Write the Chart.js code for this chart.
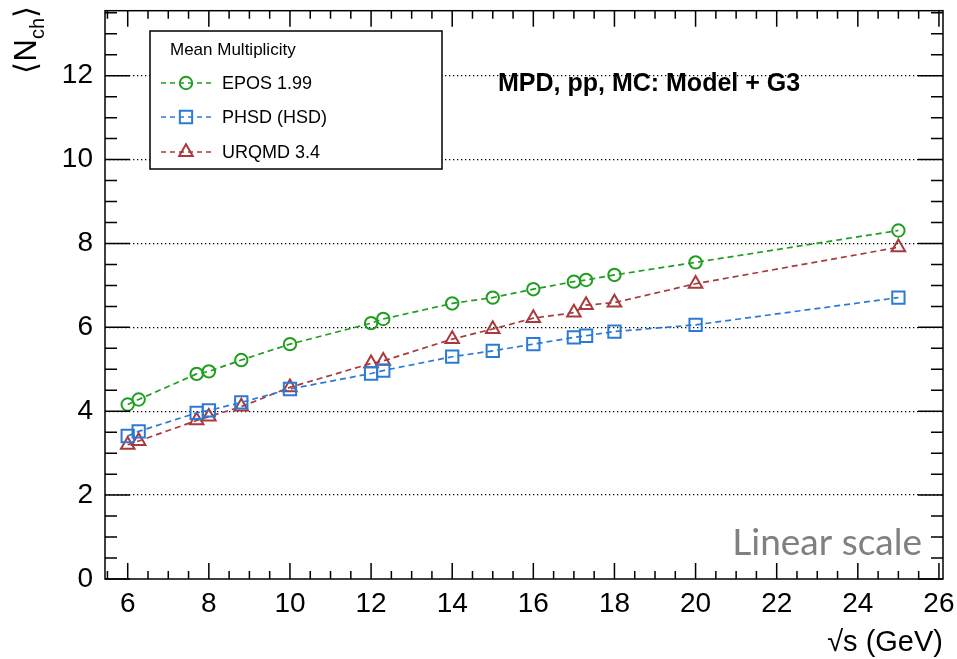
<!DOCTYPE html>
<html>
<head>
<meta charset="utf-8">
<title>Mean Multiplicity vs sqrt(s)</title>
<script src="https://cdn.jsdelivr.net/npm/chart.js"></script>
<style>
  html, body { margin: 0; padding: 0; background: #fff; }
  #wrap { width: 957px; height: 659px; }
</style>
</head>
<body>
<div id="wrap"><canvas id="multChart" width="957" height="659"></canvas></div>

<script>
// collision energies (GeV)
const energies = [6, 6.27, 7.7, 8, 8.8, 10, 12, 12.3, 14, 15, 16, 17, 17.3, 18, 20, 25];
// mean charged multiplicity per model
const eposVals  = [4.16, 4.28, 4.89, 4.95, 5.22, 5.60, 6.10, 6.20, 6.57, 6.71, 6.91, 7.09, 7.13, 7.25, 7.55, 8.31];
const phsdVals  = [3.41, 3.52, 3.96, 4.02, 4.21, 4.53, 4.90, 4.97, 5.30, 5.44, 5.60, 5.76, 5.80, 5.90, 6.06, 6.71];
const urqmdVals = [3.20, 3.29, 3.78, 3.87, 4.11, 4.57, 5.14, 5.20, 5.72, 5.96, 6.22, 6.35, 6.53, 6.59, 7.04, 7.91];

const seriesNames = ['EPOS 1.99', 'PHSD (HSD)', 'URQMD 3.4'];
const xTickLabels = [6, 8, 10, 12, 14, 16, 18, 20, 22, 24, 26];
const yTickLabels = [0, 2, 4, 6, 8, 10, 12];

const FONT = '"Liberation Sans", Arial, Helvetica, sans-serif';
const colors = ['#1f9e1f', '#2b7bd6', '#a83a3e'];
const styles = ['circle', 'rect', 'triangle'];
const radii = [6.2, 8.7, 7.8];

function toPoints(vals) {
    return energies.map((e, i) => ({ x: e, y: vals[i] }));
}

function makeSet(idx, vals) {
    return {
        label: seriesNames[idx],
        data: toPoints(vals),
        borderColor: colors[idx],
        backgroundColor: 'rgba(0,0,0,0)',
        borderWidth: 1.7,
        borderDash: [6, 4],
        pointStyle: styles[idx],
        pointRadius: radii[idx],
        pointBorderWidth: 2,
        pointBorderColor: colors[idx],
        pointBackgroundColor: 'rgba(0,0,0,0)',
        fill: false,
        tension: 0
    };
}

function drawMarker(ctx, style, x, y, r, color) {
    ctx.save();
    ctx.strokeStyle = color;
    ctx.lineWidth = 2;
    ctx.setLineDash([]);
    ctx.beginPath();
    if (style === 'circle') {
        ctx.arc(x, y, r, 0, Math.PI * 2);
    } else if (style === 'rect') {
        const s = r * Math.SQRT1_2;
        ctx.rect(x - s, y - s, 2 * s, 2 * s);
    } else {
        ctx.moveTo(x, y - r);
        ctx.lineTo(x + r * Math.cos(Math.PI / 6), y + r * 0.5);
        ctx.lineTo(x - r * Math.cos(Math.PI / 6), y + r * 0.5);
        ctx.closePath();
    }
    ctx.stroke();
    ctx.restore();
}

// frame with ROOT-style inward ticks on all four sides
const framePlugin = {
    id: 'frame',
    afterDraw(chart) {
        const ctx = chart.ctx;
        const a = chart.chartArea;
        const xs = chart.scales.x, ys = chart.scales.y;
        ctx.save();
        ctx.strokeStyle = '#000';
        ctx.lineWidth = 1.5;
        ctx.setLineDash([]);
        ctx.strokeRect(a.left, a.top, a.right - a.left, a.bottom - a.top);
        ctx.beginPath();
        for (let v = 5.5; v <= xs.max + 1e-6; v += 0.5) {
            const px = xs.getPixelForValue(v);
            const len = (Math.abs(v % 2) < 1e-6) ? 16 : 8;
            ctx.moveTo(px, a.bottom); ctx.lineTo(px, a.bottom - len);
            ctx.moveTo(px, a.top); ctx.lineTo(px, a.top + len);
        }
        for (let v = 0; v <= ys.max + 1e-6; v += 0.5) {
            const py = ys.getPixelForValue(v);
            const len = (Math.abs(v % 2) < 1e-6) ? 25 : 12;
            ctx.moveTo(a.left, py); ctx.lineTo(a.left + len, py);
            ctx.moveTo(a.right, py); ctx.lineTo(a.right - len, py);
        }
        ctx.stroke();
        ctx.restore();
    }
};

// legend box, labels and axis titles
const textPlugin = {
    id: 'texts',
    afterDraw(chart) {
        const ctx = chart.ctx;
        ctx.save();

        // legend
        const lx = 150, ly = 31, lw = 292, lh = 138;
        ctx.fillStyle = '#fff';
        ctx.fillRect(lx, ly, lw, lh);
        ctx.strokeStyle = '#000';
        ctx.lineWidth = 1.5;
        ctx.strokeRect(lx, ly, lw, lh);
        ctx.fillStyle = '#000';
        ctx.font = '17px ' + FONT;
        ctx.textBaseline = 'middle';
        ctx.textAlign = 'left';
        ctx.fillText('Mean Multiplicity', 170, 50);
        const rows = [83, 117, 152];
        chart.data.datasets.forEach((ds, i) => {
            const y = rows[i];
            ctx.save();
            ctx.strokeStyle = ds.borderColor;
            ctx.lineWidth = 1.7;
            ctx.setLineDash([5, 4]);
            ctx.beginPath();
            ctx.moveTo(161, y); ctx.lineTo(213, y);
            ctx.stroke();
            ctx.restore();
            drawMarker(ctx, ds.pointStyle, 186, y, ds.pointRadius, ds.borderColor);
            ctx.fillStyle = '#000';
            ctx.font = '18px ' + FONT;
            ctx.fillText(ds.label, 222, y + 1);
        });

        // header text
        ctx.font = 'bold 25px ' + FONT;
        ctx.fillText('MPD, pp, MC: Model + G3', 498, 84);

        // watermark
        ctx.fillStyle = '#808080';
        ctx.font = '37px Lato, "Open Sans", sans-serif';
        ctx.textAlign = 'right';
        ctx.fillText('Linear scale', 922, 543);

        // x title
        ctx.fillStyle = '#000';
        ctx.font = '29px ' + FONT;
        ctx.textAlign = 'right';
        ctx.fillText('\u221As (GeV)', 943, 643);

        // y title, rotated, with subscript
        ctx.translate(36, 6);
        ctx.rotate(-Math.PI / 2);
        ctx.textAlign = 'right';
        ctx.textBaseline = 'alphabetic';
        ctx.font = '31px ' + FONT;
        const close = '\u27E9';
        const wClose = ctx.measureText(close).width;
        ctx.fillText(close, 0, 0);
        ctx.font = '20px ' + FONT;
        const wSub = ctx.measureText('ch').width;
        ctx.fillText('ch', -wClose, 8);
        ctx.font = '31px ' + FONT;
        const wN = ctx.measureText('N').width;
        ctx.fillText('N', -wClose - wSub, 0);
        ctx.fillText('\u27E8', -wClose - wSub - wN, 0);
        ctx.restore();
    }
};

document.addEventListener('DOMContentLoaded', function () {
    const ctx = document.getElementById('multChart').getContext('2d');
    new Chart(ctx, {
        type: 'line',
        data: {
            datasets: [
                makeSet(0, eposVals),
                makeSet(1, phsdVals),
                makeSet(2, urqmdVals)
            ]
        },
        options: {
            responsive: false,
            animation: false,
            layout: { padding: { left: 0, right: 14, top: 10, bottom: 0 } },
            plugins: {
                legend: { display: false },
                tooltip: { enabled: false }
            },
            scales: {
                x: {
                    type: 'linear',
                    min: 5.44,
                    max: 26.1,
                    afterBuildTicks: (s) => { s.ticks = xTickLabels.map(v => ({ value: v })); },
                    afterFit: (s) => {
                        s.height = 80;
                        s.paddingLeft = 0; s.paddingRight = 0;
                    },
                    grid: { display: false, drawTicks: false },
                    border: { display: false },
                    ticks: {
                        padding: 8,
                        color: '#000',
                        font: { family: FONT, size: 28 },
                        maxRotation: 0,
                        autoSkip: false
                    }
                },
                y: {
                    min: 0,
                    max: 13.55,
                    afterBuildTicks: (s) => { s.ticks = yTickLabels.map(v => ({ value: v })); },
                    afterFit: (s) => {
                        s.width = 105;
                        s.paddingTop = 0; s.paddingBottom = 0;
                    },
                    grid: {
                        drawTicks: false,
                        color: (c) => (c.tick && c.tick.value === 0) ? 'rgba(0,0,0,0)' : '#000',
                        lineWidth: 1.3
                    },
                    border: { display: false, dash: [1.3, 2.7] },
                    ticks: {
                        padding: 12,
                        color: '#000',
                        font: { family: FONT, size: 28 },
                        autoSkip: false
                    }
                }
            }
        },
        plugins: [framePlugin, textPlugin]
    });
});
</script>
</body>
</html>
